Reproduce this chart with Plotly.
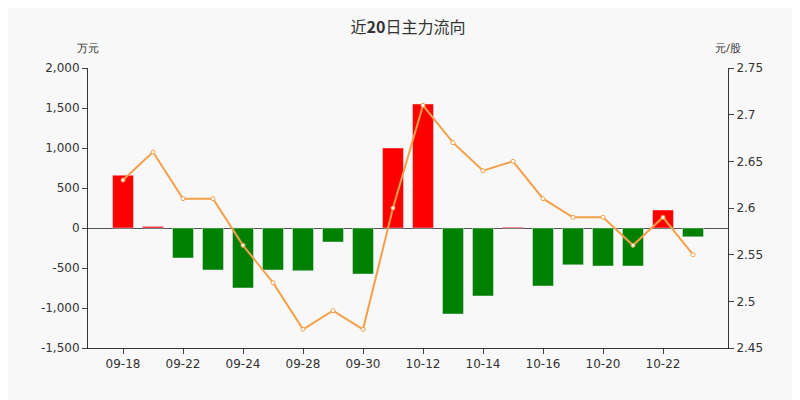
import plotly.graph_objects as go

dates = ["09-18", "09-21", "09-22", "09-23", "09-24", "09-25", "09-28", "09-29", "09-30", "10-09",
         "10-12", "10-13", "10-14", "10-15", "10-16", "10-19", "10-20", "10-21", "10-22", "10-23"]
flow = [660, 20, -375, -525, -750, -525, -535, -175, -575, 1000,
        1550, -1075, -850, 10, -725, -460, -475, -475, 225, -110]
price = [2.63, 2.66, 2.61, 2.61, 2.56, 2.52, 2.47, 2.49, 2.47, 2.60,
         2.71, 2.67, 2.64, 2.65, 2.61, 2.59, 2.59, 2.56, 2.59, 2.55]
tick_dates = ["09-18", "09-22", "09-24", "09-28", "09-30", "10-12", "10-14", "10-16", "10-20", "10-22"]
flow_ticks = [-1500, -1000, -500, 0, 500, 1000, 1500, 2000]
flow_labels = ["-1,500", "-1,000", "-500", "0", "500", "1,000", "1,500", "2,000"]

colors = ["#ff0000" if v >= 0 else "#008000" for v in flow]

fig = go.Figure()
fig.add_trace(go.Bar(x=dates, y=flow, marker_color=colors, width=0.7, yaxis="y"))
fig.add_trace(go.Scatter(x=dates, y=price, yaxis="y2", mode="lines+markers",
                         line=dict(color="#f4a04a", width=2),
                         marker=dict(size=4, color="white", line=dict(color="#f4a04a", width=1))))

axis_font = dict(family="DejaVu Sans", size=12, color="#333")
fig.update_layout(
    width=800, height=400, showlegend=False,
    paper_bgcolor="#f8f8f8", plot_bgcolor="#f8f8f8",
    margin=dict(l=80, r=80, t=60, b=60, autoexpand=False),
    title=dict(text="近<b>20</b>日主力流向", x=0.5, y=0.965, xanchor="center",
               font=dict(family="Noto Sans CJK SC", size=16, color="#333")),
    xaxis=dict(type="category", tickmode="array", tickvals=tick_dates, ticktext=tick_dates,
               showgrid=False, showline=True, linecolor="#333", ticks="outside",
               tickfont=axis_font, automargin=False),
    yaxis=dict(range=[-1500, 2000], tickmode="array", tickvals=flow_ticks, ticktext=flow_labels,
               showgrid=False, zeroline=True, zerolinecolor="#555", zerolinewidth=1,
               showline=True, linecolor="#333", ticks="outside", tickfont=axis_font,
               automargin=False),
    yaxis2=dict(range=[2.45, 2.75], dtick=0.05, overlaying="y", side="right", showgrid=False,
                showline=True, linecolor="#333", ticks="outside", tickfont=axis_font,
                automargin=False),
    annotations=[
        dict(text="万元", x=0, y=1.04, xref="paper", yref="paper", showarrow=False,
             xanchor="center", yanchor="bottom", font=dict(size=11, color="#333")),
        dict(text="元/股", x=1, y=1.04, xref="paper", yref="paper", showarrow=False,
             xanchor="center", yanchor="bottom", font=dict(size=11, color="#333")),
    ],
)
fig.write_html("out.html")
